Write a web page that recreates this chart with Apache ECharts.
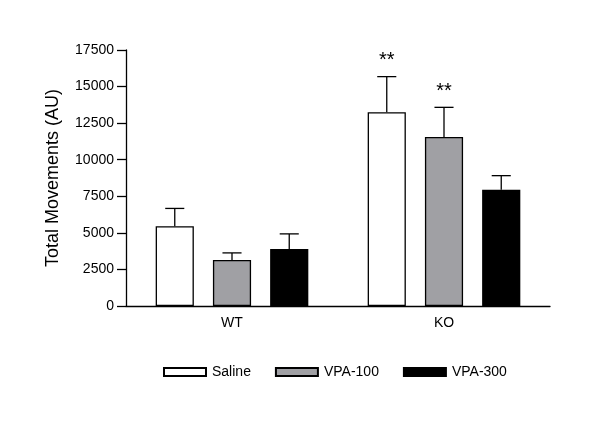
<!DOCTYPE html>
<html>
<head>
<meta charset="utf-8">
<script src="https://cdn.jsdelivr.net/npm/echarts@6/dist/echarts.min.js"></script>
<style>html,body{margin:0;padding:0;background:#fff}#c{width:600px;height:428px}</style>
</head>
<body>
<div id="c"></div>
<script>
var categories = ['WT', 'KO'];
var seriesNames = ['Saline', 'VPA-100', 'VPA-300'];
var salineValues = [5450, 13250];
var vpa100Values = [3150, 11550];
var vpa300Values = [3900, 7950];
var salineErr = [1220, 2430];
var vpa100Err = [480, 2030];
var vpa300Err = [1030, 960];
var salineMarks = ['', '**'];
var vpa100Marks = ['', '**'];
var vpa300Marks = ['', ''];
var yTicks = [0, 2500, 5000, 7500, 10000, 12500, 15000, 17500];

var colors = ['#ffffff', '#a0a0a4', '#000000'];
var values = [salineValues, vpa100Values, vpa300Values];
var errs = [salineErr, vpa100Err, vpa300Err];
var marks = [salineMarks, vpa100Marks, vpa300Marks];
var catGap = 0.28, barGapRatio = 0.5;

var font = '"Liberation Sans", Arial, Helvetica, sans-serif';
var chart = echarts.init(document.getElementById('c'), null, {renderer: 'canvas'});

var series = [];
seriesNames.forEach(function (name, i) {
  series.push({
    name: name,
    type: 'bar',
    data: values[i],
    barCategoryGap: '28%',
    barGap: '50%',
    itemStyle: {color: colors[i], borderColor: '#000', borderWidth: 1.3},
    emphasis: {disabled: true}
  });
});
seriesNames.forEach(function (name, i) {
  series.push({
    type: 'custom',
    silent: true,
    z: 1,
    data: categories.map(function (c, k) { return [k, values[i][k], values[i][k] + errs[i][k], marks[i][k]]; }),
    renderItem: function (params, api) {
      var base = api.coord([api.value(0), api.value(1)]);
      var top = api.coord([api.value(0), api.value(2)]);
      var catW = api.size([1, 0])[0];
      var used = catW * (1 - catGap);
      var bw = used / (3 + 2 * barGapRatio);
      var start = base[0] - used / 2;
      var cx = start + i * bw * (1 + barGapRatio) + bw / 2;
      var cap = bw * 0.5;
      var children = [
        {type: 'line', shape: {x1: cx, y1: base[1], x2: cx, y2: top[1]}, style: {stroke: '#000', lineWidth: 1.3}},
        {type: 'line', shape: {x1: cx - cap / 2, y1: top[1], x2: cx + cap / 2, y2: top[1]}, style: {stroke: '#000', lineWidth: 1.3}}
      ];
      var m = api.value(3);
      if (m) {
        children.push({type: 'text', style: {text: m, x: cx, y: top[1] - 16, align: 'center', verticalAlign: 'middle', fill: '#000', font: '20px ' + font}});
      }
      return {type: 'group', children: children};
    }
  });
});

chart.setOption({
  animation: false,
  backgroundColor: '#fff',
  grid: {left: 126, right: 50, top: 50, bottom: 122, containLabel: false},
  legend: {
    data: seriesNames,
    left: 163,
    top: 365,
    padding: 0,
    itemWidth: 42,
    itemHeight: 8,
    itemGap: 24,
    icon: 'rect',
    textStyle: {fontFamily: font, fontSize: 14, color: '#000', padding: [0, 0, 0, 1]},
    selectedMode: false
  },
  xAxis: {
    type: 'category',
    data: categories,
    axisLine: {lineStyle: {color: '#000', width: 1.3}},
    axisTick: {show: false},
    axisLabel: {fontFamily: font, fontSize: 14, color: '#000', margin: 10}
  },
  yAxis: {
    type: 'value',
    min: yTicks[0],
    max: yTicks[yTicks.length - 1],
    interval: yTicks[1] - yTicks[0],
    name: 'Total Movements (AU)',
    nameLocation: 'middle',
    nameGap: 64,
    nameTextStyle: {fontFamily: font, fontSize: 18, color: '#000'},
    splitLine: {show: false},
    axisLine: {show: true, lineStyle: {color: '#000', width: 1.3}},
    axisTick: {show: true, length: 9, lineStyle: {color: '#000', width: 1.3}},
    axisLabel: {fontFamily: font, fontSize: 14, color: '#000', margin: 12, formatter: function (v) { return String(v); }}
  },
  series: series
});
</script>
</body>
</html>
